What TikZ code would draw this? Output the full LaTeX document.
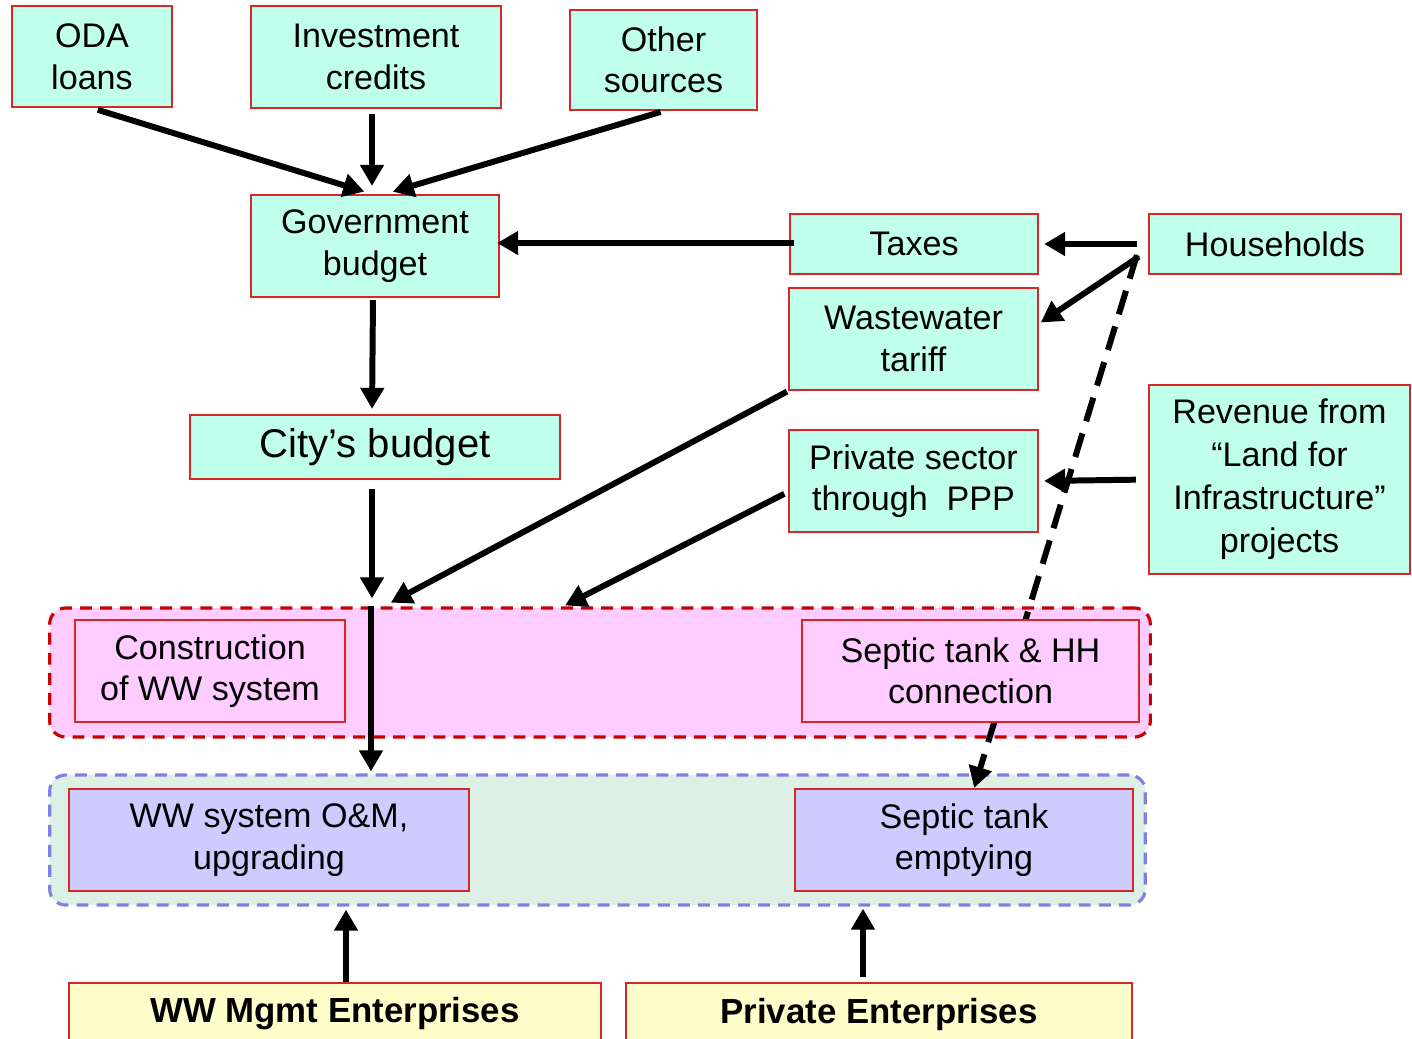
\documentclass[tikz,border=0pt]{standalone}
\usepackage{fontspec}
\setmainfont{Liberation Sans}
\usetikzlibrary{positioning}
\usetikzlibrary{arrows.meta}
\definecolor{srcfill}{RGB}{192,255,236}
\definecolor{boxred}{RGB}{214,40,40}
\definecolor{grppink}{RGB}{255,204,255}
\definecolor{grpred}{RGB}{200,0,0}
\definecolor{grpblue}{RGB}{128,128,228}
\definecolor{grpgreen}{RGB}{220,240,230}
\definecolor{opsfill}{RGB}{204,204,255}
\definecolor{entfill}{RGB}{255,255,204}
\tikzset{
    fund/.style = {rectangle, draw=boxred, line width=0.6pt, fill=srcfill, align=center, inner sep=0pt, font=\fontsize{9.7}{11.8}\selectfont},
    work/.style = {fund, fill=grppink},
    ops/.style = {fund, fill=opsfill},
    firm/.style = {fund, fill=entfill, font=\fontsize{9.9}{11.8}\selectfont\bfseries},
    grpa/.style = {rectangle, rounded corners=0.16cm, draw=grpred, fill=grppink, line width=0.9pt, dash pattern=on 3.4pt off 2.3pt},
    grpb/.style = {grpa, draw=grpblue, fill=grpgreen},
    flow/.style = {-{Triangle[length=6pt,width=6.5pt]}, line width=1.7pt},
    flowd/.style = {flow, dash pattern=on 7pt off 3.6pt} % households -> emptying
}
\begin{document}
\begin{tikzpicture}[x=0.01cm,y=-0.01cm]
\useasboundingbox (0,0) rectangle (1412,1038);
\clip (0,0) rectangle (1412,1038);
%
\node[fund, minimum width=1.6cm, minimum height=1.01cm] at (92,56.5) (oda) {ODA\\loans};
\node[fund, minimum width=2.5cm, minimum height=1.02cm] at (376,57) (inv) {Investment\\credits};
\node[fund, minimum width=1.87cm, minimum height=1.0cm] at (663.5,60) (other) {Other\\sources};
\node[fund, minimum width=2.48cm, minimum height=1.02cm] at (375,246) (gov) {Government\\budget};
\node[fund, minimum width=2.48cm, minimum height=0.6cm] at (914,244) (taxes) {Taxes};
\node[fund, minimum width=2.52cm, minimum height=0.6cm] at (1275,244) (hh) {Households};
\node[fund, minimum width=2.49cm, minimum height=1.02cm] at (913.5,339) (tariff) {Wastewater\\tariff};
\node[fund, minimum width=3.7cm, minimum height=0.64cm, font=\fontsize{11.4}{13}\selectfont] at (375,447) (city) {City’s budget};
\node[fund, minimum width=2.49cm, minimum height=1.02cm] at (913.5,481) (ppp) {Private sector\\through\ \ PPP};
\node[fund, minimum width=2.61cm, minimum height=1.89cm, font=\fontsize{9.7}{12.2}\selectfont] at (1279.5,479.5) (rev) {Revenue from\\“Land for\\Infrastructure”\\projects};
%
\node[grpa, minimum width=11.0cm, minimum height=1.29cm] at (600,672.5) (grpA) {};
\node[grpb, minimum width=10.95cm, minimum height=1.3cm] at (597.5,840) (grpB) {};
\node[work, minimum width=2.7cm, minimum height=1.02cm] at (210,671) (constr) {Construction\\of WW system};
\node[ops, minimum width=4.0cm, minimum height=1.02cm] at (269,840) (omup) {WW system O\&M,\\upgrading};
\node[ops, minimum width=3.38cm, minimum height=1.02cm] at (964,840) (empty) {Septic tank\\emptying};
\node[firm, minimum width=5.32cm, minimum height=0.62cm] at (335,1014) (wwm) {WW Mgmt Enterprises};
\node[firm, minimum width=5.06cm, minimum height=0.62cm] at (879,1014) (pent) {Private Enterprises};
%
\draw[flowd] ([xshift=-0.11cm]hh.185) -- ([xshift=0.01cm]empty.80);
\node[work, minimum width=3.37cm, minimum height=1.02cm] at (970.5,671) (septic) {Septic tank \& HH\\connection};
%
\draw[flow, shorten <=0.06cm, shorten >=0.08cm] (oda.south) -- ([xshift=-0.03cm]gov.north);
\draw[flow, shorten <=0.05cm, shorten >=0.08cm] ([xshift=-0.04cm]inv.south) -- ([xshift=-0.03cm]gov.north);
\draw[flow, shorten <=0.03cm, shorten >=0.08cm] (other.south) -- (gov.79);
\draw[flow, shorten <=-0.05cm, shorten >=-0.03cm] ([yshift=0.01cm]taxes.west) -- ([yshift=0.01cm]taxes.west -| gov.east);
\draw[flow, shorten <=0.11cm, shorten >=0.05cm] (hh.west) -- (taxes.east);
\draw[flow, shorten <=0.11cm, shorten >=0.02cm] (hh.183) -- (tariff.7);
\draw[flow, shorten <=0.12cm, shorten >=0.05cm] (rev.west) -- (ppp.east);
\draw[flow, shorten <=0.02cm, shorten >=0.05cm] ([xshift=-0.02cm]gov.south) -- ([xshift=-0.03cm]city.north);
\draw[flow, shorten <=0.09cm, shorten >=0.08cm] ([xshift=-0.03cm]city.south) -- ([xshift=-0.03cm]city.south |- grpA.north);
\draw[flow, shorten <=0.01cm, shorten >=0.08cm] (tariff.south west) -- (grpA.163.7);
\draw[flow, shorten <=0.04cm, shorten >=0.02cm] (ppp.185.5) -- (grpA.119.8);
\draw[flow, shorten >=0.02cm] ([xshift=-0.04cm]city.south |- grpA.north) -- ([xshift=-0.04cm]city.south |- grpB.north);
\draw[flow, shorten >=0.03cm] ([xshift=0.11cm]wwm.north) -- ([xshift=0.11cm]wwm.north |- grpB.south);
\draw[flow, shorten <=0.05cm, shorten >=0.02cm] ([xshift=-0.16cm]pent.north) -- ([xshift=-0.16cm]pent.north |- grpB.south);
\end{tikzpicture}
\end{document}
